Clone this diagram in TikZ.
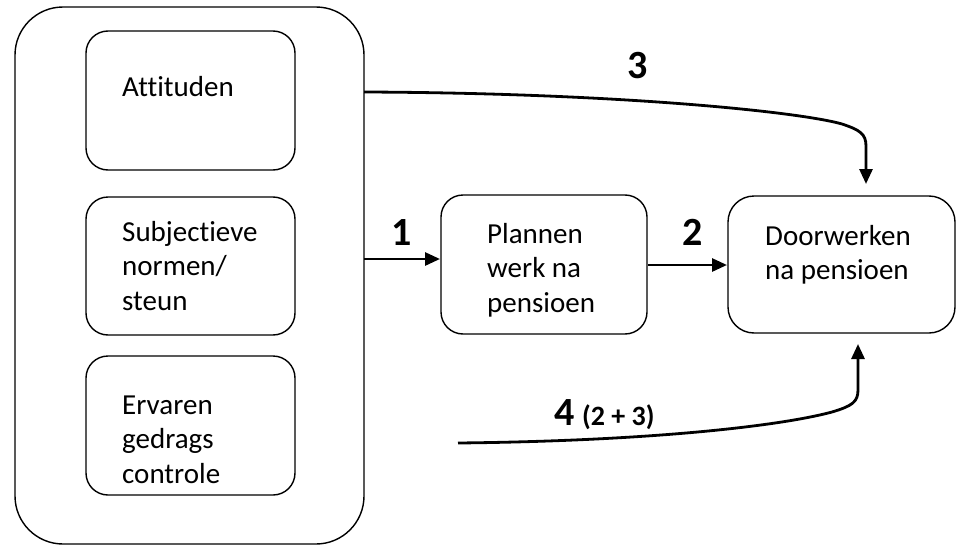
\documentclass[tikz,border=0pt]{standalone}
\usepackage{fontspec}
\setmainfont{Carlito}[Ligatures=NoCommon]
\usetikzlibrary{arrows.meta}
\begin{document}
\begin{tikzpicture}[x=1pt,y=-1pt,
  box/.style={draw, line width=1.4pt, rounded corners=#1, inner sep=0pt},
  box/.default=22pt,
  txt/.style={anchor=base west, inner sep=0pt, text width=220pt, align=flush left,
    font=\fontsize{29}{34.5}\selectfont},
  lbl/.style={anchor=base, inner sep=0pt, font=\fontsize{40}{42}\selectfont\bfseries},
  conn/.style={line width=2.8pt, -{Triangle[length=15pt,width=13pt]}}]
\useasboundingbox (0,0) rectangle (959,546);
% outer group
\draw[box=48pt] (15,7) rectangle (364,544);
\coordinate (outerA) at (364,92);
\coordinate (outerB) at (364,259);
% inner boxes
\draw[box] (86,31) rectangle (295,170);
\draw[box] (86,197) rectangle (295,335);
\draw[box] (86,356) rectangle (295,495);
\node[txt] (att) at (122,96) {Attituden};
\node[txt] (sub) at (122,241) {Subjectieve\\normen/\\steun};
\node[txt] (erv) at (122,414) {Ervaren\\gedrags\\controle};
% plannen
\draw[box] (441,195) rectangle (647,334);
\node[txt] (plan) at (487,243) {Plannen\\werk na\\pensioen};
% doorwerken
\draw[box=26pt] (728,196) rectangle (955,333);
\node[txt] (door) at (765,245) {Doorwerken\\na pensioen};
% connectors
\coordinate (planW) at (440,259);
\coordinate (planE) at (648,265);
\coordinate (doorW) at (727,265);
\coordinate (doorT) at (866,184);
\coordinate (doorB) at (858,344);
\coordinate (start4) at (458,443);
\draw[conn] (outerB) -- (planW);
\draw[conn] (planE) -- (doorW);
\draw[conn] (outerA) .. controls (620,93) and (800,112) .. (842,124)
  .. controls (860,130) and (866,134) .. (866,146) -- (doorT);
\draw[conn] (start4) .. controls (650,441) and (780,426) .. (832,412)
  .. controls (852,406) and (858,402) .. (858,390) -- (doorB);
% labels
\node[lbl] (l1) at (402,245) {1};
\node[lbl] (l2) at (693,245) {2};
\node[lbl] (l3) at (638,78) {3};
\node[lbl] (l4) at (565,425) {4};
\node[anchor=base west, inner sep=0pt, font=\fontsize{28}{30}\selectfont\bfseries] (l4b) at (582,425) {(2 + 3)};
\end{tikzpicture}
\end{document}
